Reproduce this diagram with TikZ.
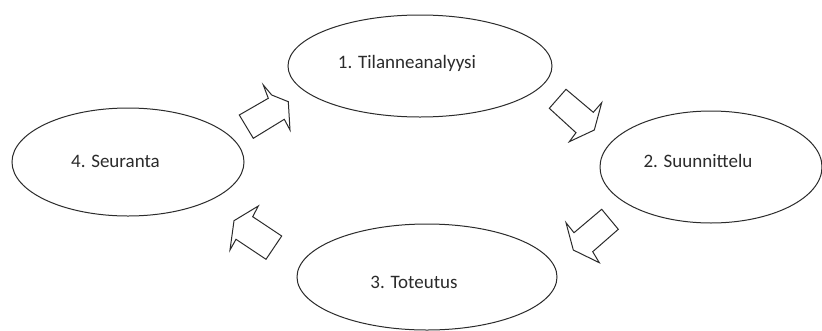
\documentclass[tikz,border=0pt]{standalone}
\usepackage{fontspec}
\setmainfont{Carlito}
\usetikzlibrary{shapes.geometric}
\definecolor{ink}{HTML}{2B2B2B}
\tikzset{
  phase/.style={draw=ink, line width=1pt, ellipse, inner sep=0pt, fill=white},
  lbl/.style={text=ink, font=\fontsize{19}{22}\selectfont, inner sep=0pt, anchor=center},
  blockarrow/.style={draw=ink, line width=1pt, line join=miter, fill=white}
}
\begin{document}
\begin{tikzpicture}[x=1pt,y=-1pt]
\useasboundingbox (0,0) rectangle (822,330);
\fill[white] (0,0) rectangle (822,330);
% ellipses
\node[phase, minimum width=264pt, minimum height=102pt] (e1) at (420,66) {};
\node[phase, minimum width=222pt, minimum height=112pt] (e2) at (711,167) {};
\node[phase, minimum width=260pt, minimum height=106pt] (e3) at (427,277) {};
\node[phase, minimum width=232pt, minimum height=108pt] (e4) at (128,162) {};
% labels
\node[lbl] (t1) at (407,63) {1. Tilanneanalyysi};
\node[lbl] (t2) at (698,161) {2. Suunnittelu};
\node[lbl] (t3) at (414,282) {3. Toteutus};
\node[lbl] (t4) at (115.5,161) {4. Seuranta};
% block arrows
\draw[blockarrow] (263.3,85) -- (271.7,95) -- (288.3,101.7) -- (290,130) -- (284.3,119.3) -- (253.3,138.3) -- (239.3,115) -- (268.3,98.3) -- cycle;
\draw[blockarrow] (566,89.3) -- (593.3,112.3) -- (601.7,102.7) -- (594.3,130) -- (569.3,141.7) -- (576,132.7) -- (549.3,108.3) -- cycle;
\draw[blockarrow] (601.7,209.3) -- (618.3,229.3) -- (592.7,251.7) -- (599.3,262.7) -- (573.3,250) -- (566,222.7) -- (574,232.7) -- cycle;
\draw[blockarrow] (258.3,206) -- (252.7,216.7) -- (281.7,236) -- (266,259.3) -- (236,239.3) -- (230,250) -- (234,220.7) -- cycle;
\end{tikzpicture}
\end{document}
